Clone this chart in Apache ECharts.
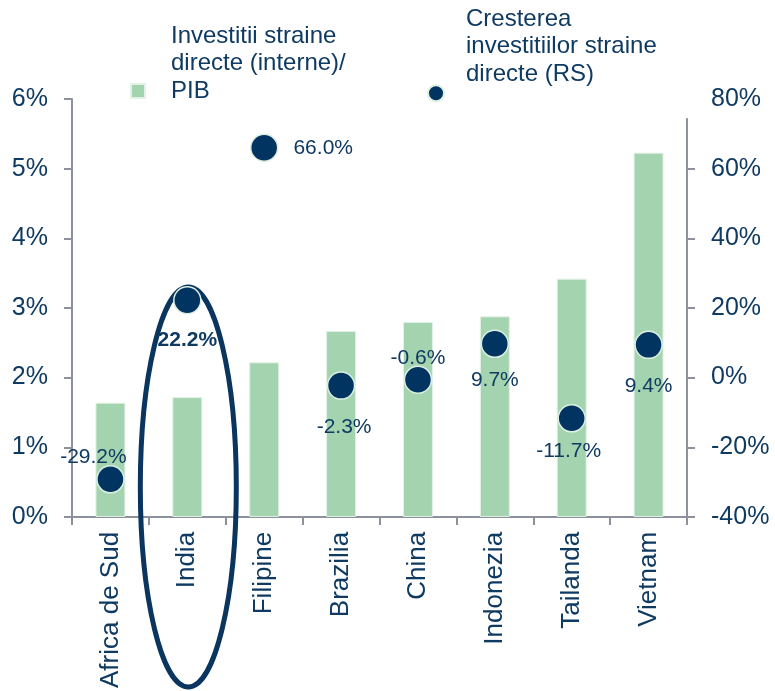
<!DOCTYPE html>
<html><head><meta charset="utf-8">
<script src="https://cdn.jsdelivr.net/npm/echarts@6/dist/echarts.min.js"></script>
<style>html,body{margin:0;padding:0;background:#fff}#c{width:775px;height:691px}</style>
</head><body><div id="c"></div>
<script>
var categories = ['Africa de Sud','India','Filipine','Brazilia','China','Indonezia','Tailanda','Vietnam'];
var fdiGdp = [1.64, 1.72, 2.22, 2.67, 2.80, 2.88, 3.42, 5.23];
var fdiGrowth = [-29.2, 22.2, 66.0, -2.3, -0.6, 9.7, -11.7, 9.4];
var leftTicks = {min: 0, max: 6, interval: 1};
var rightTicks = {min: -40, max: 80, interval: 20};
var seriesNames = ['Investitii straine directe (interne)/PIB', 'Cresterea investitiilor straine directe (RS)'];
var legendLines = [['Investitii straine', 'directe (interne)/', 'PIB'], ['Cresterea', 'investitiilor straine', 'directe (RS)']];

var TXT = '#0f3a62', NAVY = '#023461', GREEN = '#a4d4af', AX = '#8d919c';
var FONT = 'Liberation Sans, Arial, sans-serif';
var labelCfg = [
  {position:'top', distance:-3, offset:[-17,0]},
  {position:'bottom', distance:15, fontWeight:'bold'},
  {position:'right', distance:15},
  {position:'bottom', distance:17, offset:[3,0]},
  {position:'top', distance:-3},
  {position:'bottom', distance:12},
  {position:'bottom', distance:8, offset:[-3,0]},
  {position:'bottom', distance:17}
];
var chart = echarts.init(document.getElementById('c'), null, {renderer:'canvas'});
var scatterData = fdiGrowth.map(function(v,i){
  var l = Object.assign({show:true, color:TXT, fontSize:21, fontFamily:FONT,
    formatter: function(p){return p.value.toFixed(1)+'%';}}, labelCfg[i]);
  return {value:v, label:l};
});
function legendFmt(idx){
  return function(){ return legendLines[idx].map(function(s){return '{a|'+s+'}';}).join('\n') + '\n{sp| }'; };
}
function legendRich(sp){
  return {a:{color:TXT, fontSize:24, fontFamily:FONT, lineHeight:27.5}, sp:{fontSize:10, lineHeight:sp}};
}
chart.setOption({
  animation:false,
  textStyle:{fontFamily:FONT},
  grid:{left:72, right:88, top:99, bottom:174},
  legend:[
    {data:[{name:seriesNames[0], icon:'rect'}], left:130, top:24, padding:0, itemWidth:14, itemHeight:14,
     selectedMode:false, formatter:legendFmt(0),
     textStyle:{padding:[0,0,0,21], rich:legendRich(55)}},
    {data:[{name:seriesNames[1], icon:'circle'}], left:427, top:7, padding:0, itemWidth:16, itemHeight:16,
     selectedMode:false, formatter:legendFmt(1),
     textStyle:{padding:[0,0,0,17], rich:legendRich(93.5)}}
  ],
  xAxis:{type:'category', data:categories,
    axisLine:{lineStyle:{color:AX, width:2}},
    axisTick:{show:true, length:8, lineStyle:{color:AX, width:2}},
    axisLabel:{rotate:90, color:TXT, fontSize:26, fontFamily:FONT, margin:15, interval:0}},
  yAxis:[
    {type:'value', min:leftTicks.min, max:leftTicks.max, interval:leftTicks.interval, position:'left',
     splitLine:{show:false},
     axisLine:{show:true, lineStyle:{color:AX, width:2}},
     axisTick:{show:true, length:8, lineStyle:{color:AX, width:2}},
     axisLabel:{formatter:'{value}%', color:TXT, fontSize:25, fontFamily:FONT, margin:24}},
    {type:'value', min:rightTicks.min, max:rightTicks.max, interval:rightTicks.interval, position:'right',
     splitLine:{show:false},
     axisLine:{show:true, lineStyle:{color:AX, width:2}},
     axisTick:{show:true, length:8, lineStyle:{color:AX, width:2}},
     axisLabel:{formatter:'{value}%', color:TXT, fontSize:25, fontFamily:FONT, margin:24}}
  ],
  series:[
    {name:seriesNames[0], type:'bar', data:fdiGdp, barWidth:30, yAxisIndex:0,
     itemStyle:{color:GREEN, borderColor:'#e3f2e7', borderWidth:1}},
    {name:seriesNames[1], type:'scatter', data:scatterData, yAxisIndex:1, symbolSize:27, z:5,
     itemStyle:{color:NAVY, borderColor:'#dcefe2', borderWidth:1.5, opacity:1}}
  ]
});
var px = chart.convertToPixel({xAxisIndex:0}, categories[1]);
var rTop = chart.convertToPixel({yAxisIndex:1}, rightTicks.max);
var rCut = chart.convertToPixel({yAxisIndex:1}, 74.5);
chart.setOption({graphic:[
  {type:'ellipse', z:3, shape:{cx:px+1, cy:487, rx:48, ry:200},
   style:{fill:'none', stroke:'#0a355f', lineWidth:5}},
  {type:'rect', z:10, shape:{x:680, y:rTop-3, width:18, height:rCut-rTop+3},
   style:{fill:'#ffffff'}}
]});
</script></body></html>
